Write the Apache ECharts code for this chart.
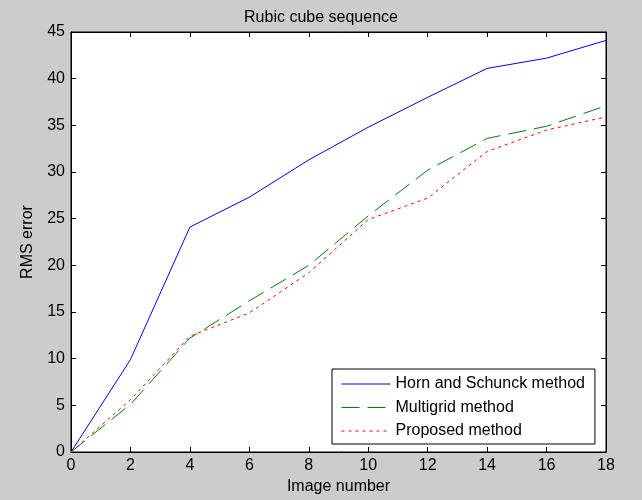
<!DOCTYPE html>
<html><head><meta charset="utf-8">
<script src="https://cdn.jsdelivr.net/npm/echarts@6/dist/echarts.min.js"></script>
<style>html,body{margin:0;padding:0;background:#cccccc}#c{width:642px;height:500px}</style>
</head><body><div id="c"></div>
<script>
const imageNumbers = [0, 2, 4, 6, 8, 10, 12, 14, 16, 18];
const hornSchunck = [0, 9.9, 24.1, 27.3, 31.3, 34.8, 38.0, 41.1, 42.2, 44.1];
const multigrid = [0, 5.1, 12.2, 16.2, 20.0, 25.3, 30.2, 33.6, 34.9, 37.1];
const proposed = [0, 5.6, 12.4, 14.9, 19.2, 24.9, 27.2, 32.2, 34.5, 35.9];
const seriesNames = ['Horn and Schunck method', 'Multigrid method', 'Proposed method'];
const titleText = 'Rubic cube sequence';
const xName = 'Image number';
const yName = 'RMS error';

const FONT = 'Liberation Sans, Arial, sans-serif';
const pairs = arr => imageNumbers.map((x, i) => [x, arr[i]]);
const chart = echarts.init(document.getElementById('c'), null, {renderer: 'canvas'});
const tickStyle = {show: true, inside: true, length: 5, lineStyle: {color: '#000', width: 1}};
const lineAxis = {show: true, onZero: false, lineStyle: {color: '#000', width: 1}};
chart.setOption({
  backgroundColor: '#cccccc',
  animation: false,
  title: {text: titleText, left: 'center', top: 5,
    textStyle: {fontFamily: FONT, fontSize: 16, fontWeight: 'normal', color: '#000'}},
  grid: {left: 71, right: 36, top: 32, bottom: 47, show: true, backgroundColor: '#ffffff', borderColor: '#000', borderWidth: 1},
  legend: {
    orient: 'vertical', left: 332, top: 369,
    padding: [7, 10, 5, 9], itemGap: 7.5, itemWidth: 49, itemHeight: 14,
    backgroundColor: '#ffffff', borderColor: '#000', borderWidth: 1,
    textStyle: {fontFamily: FONT, fontSize: 16, color: '#000'},
    itemStyle: {color: 'transparent', borderColor: 'transparent', borderWidth: 0},
    lineStyle: {width: 1},
    data: seriesNames
  },
  xAxis: [
    {type: 'value', position: 'bottom', min: 0, max: 18, interval: 2,
     name: xName, nameLocation: 'middle', nameGap: 27,
     nameTextStyle: {fontFamily: FONT, fontSize: 16, color: '#000'},
     axisLine: lineAxis, axisTick: tickStyle, splitLine: {show: false},
     axisLabel: {margin: 6, fontFamily: FONT, fontSize: 16, color: '#000'}},
    {type: 'value', position: 'top', min: 0, max: 18, interval: 2,
     axisLine: lineAxis, axisTick: tickStyle, splitLine: {show: false}, axisLabel: {show: false}}
  ],
  yAxis: [
    {type: 'value', position: 'left', min: 0, max: 45, interval: 5,
     name: yName, nameLocation: 'middle', nameGap: 35, nameRotate: 90,
     nameTextStyle: {fontFamily: FONT, fontSize: 16, color: '#000'},
     axisLine: lineAxis, axisTick: tickStyle, splitLine: {show: false},
     axisLabel: {margin: 6, fontFamily: FONT, fontSize: 16, color: '#000'}},
    {type: 'value', position: 'right', min: 0, max: 45, interval: 5,
     axisLine: lineAxis, axisTick: tickStyle, splitLine: {show: false}, axisLabel: {show: false}}
  ],
  series: [
    {name: seriesNames[0], type: 'line', data: pairs(hornSchunck), symbol: 'none',
     lineStyle: {color: '#0000ff', width: 1, type: 'solid'}, itemStyle: {color: '#0000ff'}},
    {name: seriesNames[1], type: 'line', data: pairs(multigrid), symbol: 'none',
     lineStyle: {color: '#008000', width: 1, type: [18, 8]}, itemStyle: {color: '#008000'}},
    {name: seriesNames[2], type: 'line', data: pairs(proposed), symbol: 'none',
     lineStyle: {color: '#ff0000', width: 1, type: [3, 4]}, itemStyle: {color: '#ff0000'}}
  ]
});
</script></body></html>
